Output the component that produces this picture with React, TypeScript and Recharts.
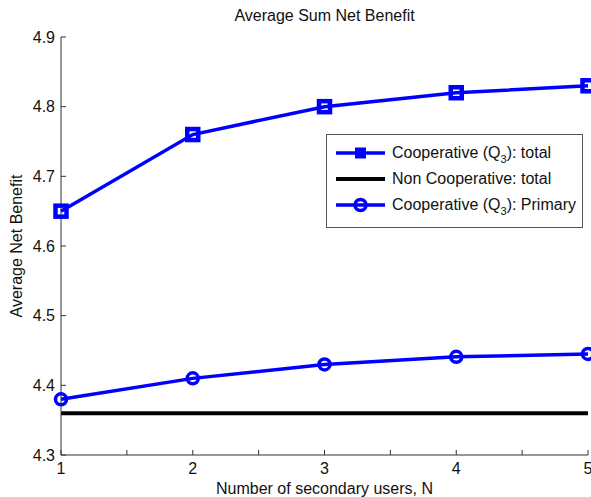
import { Legend, Line, LineChart, XAxis, YAxis } from 'recharts'

// N = number of secondary users
const users = [1, 2, 3, 4, 5]
const coopTotal = [4.65, 4.76, 4.8, 4.82, 4.83]
const nonCoopTotal = [4.36, 4.36, 4.36, 4.36, 4.36]
const coopPrimary = [4.38, 4.41, 4.43, 4.441, 4.445]

const xTicks = [1, 1.5, 2, 2.5, 3, 3.5, 4, 4.5, 5]
const yTicks = [4.3, 4.4, 4.5, 4.6, 4.7, 4.8, 4.9]

const BLUE = '#0000ff'
const AXIS = '#333'
const FONT = '"Liberation Sans", Arial, Helvetica, sans-serif'

const data = users.map((n, i) => ({
  n,
  total: coopTotal[i],
  nonCoop: nonCoopTotal[i],
  primary: coopPrimary[i],
}))

const legendItems = [
  { key: 'total', pre: 'Cooperative (Q', sub: '3', post: '): total', color: BLUE, marker: 'square' },
  { key: 'nonCoop', pre: 'Non Cooperative: total', sub: '', post: '', color: '#000', marker: 'none' },
  { key: 'primary', pre: 'Cooperative (Q', sub: '3', post: '): Primary', color: BLUE, marker: 'circle' },
]

// hollow marker with a heavy edge, the line shows through the middle
function SquareDot(props: any) {
  const { cx, cy, index } = props
  if (cx == null || cy == null) return null
  return <rect key={index} x={cx - 5.5} y={cy - 5.5} width={11} height={11} fill="none" stroke={BLUE} strokeWidth={4.5} />
}

function CircleDot(props: any) {
  const { cx, cy, index } = props
  if (cx == null || cy == null) return null
  return <circle key={index} cx={cx} cy={cy} r={5.5} fill="none" stroke={BLUE} strokeWidth={3.5} />
}

function LegendBox() {
  return (
    <div
      style={{
        width: 255,
        height: 87,
        border: '1px solid #555',
        background: '#fff',
        paddingTop: 5,
        boxSizing: 'content-box',
        fontFamily: FONT,
        fontSize: 16,
        color: '#111',
      }}
    >
      {legendItems.map((it) => (
        <div key={it.key} style={{ display: 'flex', alignItems: 'center', height: 26, whiteSpace: 'nowrap' }}>
          <svg width={49} height={16} style={{ marginLeft: 9, marginRight: 7, flex: 'none' }}>
            <line x1={0} y1={8} x2={49} y2={8} stroke={it.color} strokeWidth={it.marker === 'none' ? 4 : 3.5} />
            {it.marker === 'square' && <rect x={19} y={2.5} width={11} height={11} fill={it.color} />}
            {it.marker === 'circle' && <circle cx={24.5} cy={8} r={5.5} fill="none" stroke={it.color} strokeWidth={3.5} />}
          </svg>
          <span>
            {it.pre}
            {it.sub && <sub style={{ fontSize: 11, verticalAlign: -5, lineHeight: 0 }}>{it.sub}</sub>}
            {it.post}
          </span>
        </div>
      ))}
    </div>
  )
}

export default function App() {
  const tickStyle = { fontSize: 16, fill: '#111', fontFamily: FONT }
  return (
    <div style={{ position: 'absolute', left: 0, top: 0, width: 591, height: 497, background: '#fff', fontFamily: FONT }}>
      <div style={{ position: 'absolute', left: 0, width: 649, top: 7, textAlign: 'center', fontSize: 16, color: '#111' }}>
        Average Sum Net Benefit
      </div>
      <div
        style={{
          position: 'absolute',
          left: 17,
          top: 246,
          transform: 'translate(-50%, -50%) rotate(-90deg)',
          whiteSpace: 'nowrap',
          fontSize: 16,
          color: '#111',
        }}
      >
        Average Net Benefit
      </div>
      <LineChart width={591} height={497} data={data} margin={{ top: 37, right: 3, bottom: 0, left: 1 }}>
        <XAxis
          xAxisId="b"
          dataKey="n"
          type="number"
          domain={[1, 5]}
          ticks={xTicks}
          interval={0}
          height={42}
          tickSize={-5}
          tickMargin={13}
          stroke={AXIS}
          tick={tickStyle}
          tickFormatter={(v: number) => (Number.isInteger(v) ? String(v) : '')}
          label={{ value: 'Number of secondary users, N', position: 'insideBottom', offset: 3, style: { ...tickStyle } }}
        />
        <XAxis
          xAxisId="t"
          orientation="top"
          dataKey="n"
          type="number"
          domain={[1, 5]}
          ticks={xTicks}
          interval={0}
          height={0}
          tickSize={-5}
          stroke={AXIS}
          tickFormatter={() => ''}
        />
        <YAxis
          yAxisId="l"
          type="number"
          domain={[4.3, 4.9]}
          ticks={yTicks}
          interval={0}
          width={60}
          tickSize={-5}
          tickMargin={11}
          stroke={AXIS}
          tick={tickStyle}
          tickFormatter={(v: number) => v.toFixed(1)}
        />
        <YAxis
          yAxisId="r"
          orientation="right"
          type="number"
          domain={[4.3, 4.9]}
          ticks={yTicks}
          interval={0}
          width={0}
          tickSize={-5}
          stroke={AXIS}
          tickFormatter={() => ''}
        />
        <Line
          xAxisId="b"
          yAxisId="l"
          dataKey="nonCoop"
          stroke="#000"
          strokeWidth={4}
          dot={false}
          activeDot={false}
          isAnimationActive={false}
        />
        <Line
          xAxisId="b"
          yAxisId="l"
          dataKey="primary"
          stroke={BLUE}
          strokeWidth={3.5}
          dot={<CircleDot />}
          activeDot={false}
          isAnimationActive={false}
        />
        <Line
          xAxisId="b"
          yAxisId="l"
          dataKey="total"
          stroke={BLUE}
          strokeWidth={3.5}
          dot={<SquareDot />}
          activeDot={false}
          isAnimationActive={false}
        />
        <Legend
          layout="vertical"
          align="center"
          verticalAlign="middle"
          content={() => <LegendBox />}
          wrapperStyle={{ left: 326, top: 134, width: 257, height: 93 }}
        />
      </LineChart>
    </div>
  )
}
